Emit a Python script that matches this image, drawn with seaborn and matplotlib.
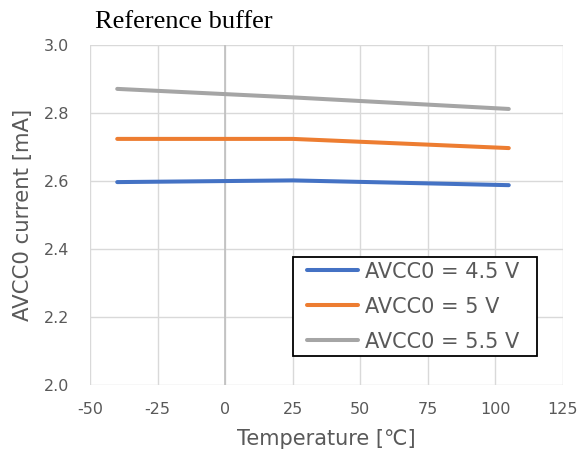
import matplotlib
matplotlib.use("Agg")
import matplotlib.pyplot as plt
from matplotlib.patches import Rectangle
import seaborn as sns
import pandas as pd

temps = [-40, 25, 105]
avcc_45 = [2.597, 2.602, 2.588]
avcc_50 = [2.724, 2.724, 2.697]
avcc_55 = [2.871, 2.846, 2.812]
series_names = ["AVCC0 = 4.5 V", "AVCC0 = 5 V", "AVCC0 = 5.5 V"]
x_ticks = [-50, -25, 0, 25, 50, 75, 100, 125]
y_ticks = [2.0, 2.2, 2.4, 2.6, 2.8, 3.0]

rows = []
for name, vals in zip(series_names, [avcc_45, avcc_50, avcc_55]):
    for t, v in zip(temps, vals):
        rows.append({"Temperature": t, "Current": v, "Series": name})
df = pd.DataFrame(rows)

sns.set_theme(style="white")
plt.rcParams["font.family"] = ["DejaVu Sans", "Noto Sans CJK JP"]

fig = plt.figure(figsize=(5.82, 4.5), dpi=100)
ax = fig.add_axes([0.155, 0.144, 0.812, 0.756])

palette = {series_names[0]: "#4472C4", series_names[1]: "#ED7D31", series_names[2]: "#A5A5A5"}
sns.lineplot(data=df, x="Temperature", y="Current", hue="Series", palette=palette,
             linewidth=2.9, ax=ax, zorder=3)

ax.set_xlim(-50, 125)
ax.set_ylim(2.0, 3.0)
ax.set_xticks(x_ticks)
ax.set_xticklabels([str(t) for t in x_ticks], fontfamily="DejaVu Sans")
ax.set_yticks(y_ticks)
ax.set_yticklabels([f"{y:.1f}" for y in y_ticks], fontfamily="DejaVu Sans")
ax.grid(True, color="#D9D9D9", linewidth=1.0, zorder=0)
ax.axvline(0, color="#BFBFBF", linewidth=1.2, zorder=1)
for s in ax.spines.values():
    s.set_visible(False)
ax.tick_params(axis="both", length=0, labelsize=11.5, colors="#595959")
ax.tick_params(axis="x", pad=12)
ax.tick_params(axis="y", pad=15)

ax.set_xlabel("Temperature [℃]", fontsize=15, color="#595959", labelpad=9)
ax.set_ylabel("AVCC0 current [mA]", fontsize=15.3, color="#595959", labelpad=8)

fig.text(0.163, 0.95, "Reference buffer", fontfamily="Liberation Serif", fontsize=19,
         color="black", ha="left", va="center")

# legend box
box = Rectangle((0.429, 0.085), 0.516, 0.291, transform=ax.transAxes,
                facecolor="white", edgecolor="black", linewidth=1.3, zorder=4)
ax.add_patch(box)

leg = ax.legend(title=None, loc="upper left", bbox_to_anchor=(0.459, 0.363),
                borderaxespad=0, borderpad=0, fontsize=15, frameon=False,
                handlelength=2.45, handletextpad=0.33, labelspacing=0.72)
leg.set_zorder(5)
for t in leg.get_texts():
    t.set_color("#595959")

fig.savefig("out.png", dpi=100)
